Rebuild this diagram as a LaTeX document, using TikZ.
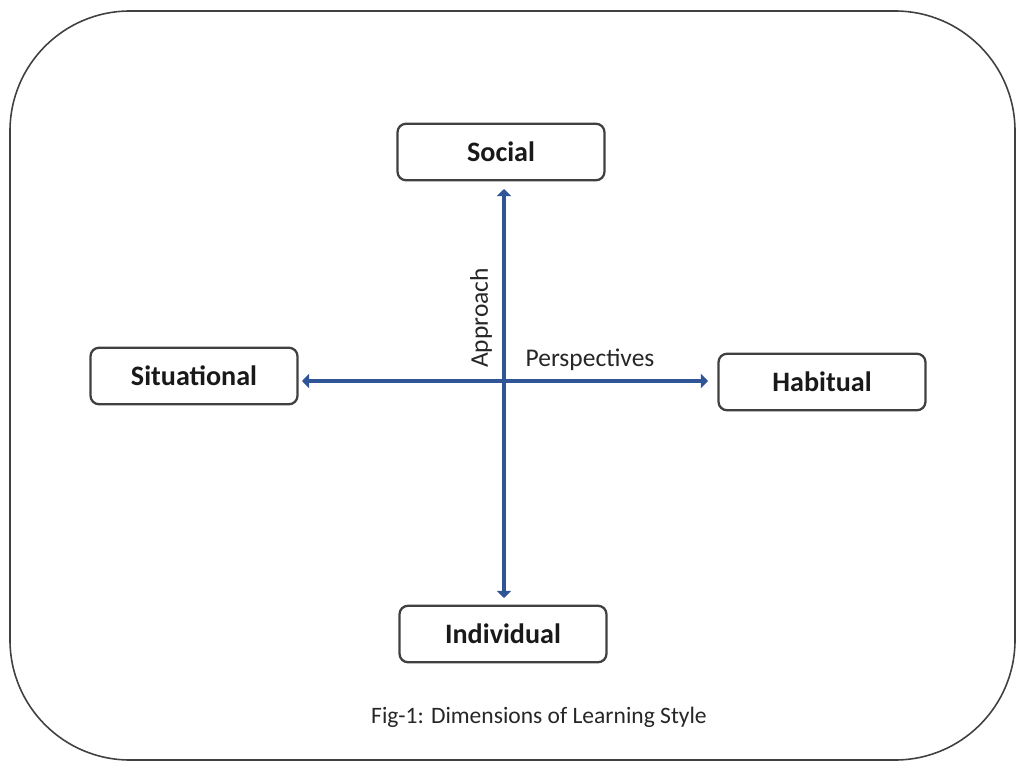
\documentclass[tikz,border=0pt]{standalone}
\usepackage{fontspec}
\setmainfont{Carlito}
\usepackage{xcolor}
\usepackage{tikz}
\usetikzlibrary{calc,arrows.meta}
\definecolor{axisblue}{RGB}{47,85,151}
\definecolor{boxgray}{RGB}{64,64,64}
\tikzset{
	dimbox/.style={draw=boxgray,line width=1.3pt,rounded corners=0.17cm,minimum width=4.14cm,minimum height=1.13cm,font=\fontsize{16}{19}\selectfont\bfseries,text=black!90},
	axis/.style={draw=axisblue,line width=2.4pt,{Triangle[length=4pt,width=8pt]}-{Triangle[length=4pt,width=8pt]}},
	axislabel/.style={font=\fontsize{14.5}{17}\selectfont,text=black!85}
}
\begin{document}
\begin{tikzpicture}[x=0.02cm,y=-0.02cm]
	        \useasboundingbox (0,0) rectangle (1025,767);
	        \draw[boxgray,line width=0.9pt,rounded corners=2.4cm] (10,11) rectangle (1015,760); %outer frame
	        \node[dimbox] (social) at (501,152) {Social};
	        \node[dimbox] (situational) at (194,376) {Situational};
	        \node[dimbox] (habitual) at (822,382) {Habitual};
	        \node[dimbox] (individual) at (503,634) {Individual};
	        \coordinate (Vtop) at (504,189);
	        \coordinate (Vbot) at (504,598);
	        \coordinate (Hleft) at (302,381);
	        \coordinate (Hright) at (708,381);
	        \draw[axis] (Vtop) -- (Vbot); % approach axis
	        \draw[axis] (Hleft) -- (Hright); % perspectives axis
	        \node[axislabel,rotate=90] (approach) at (481,318) {Approach};
	        \node[axislabel] (perspectives) at (590,360) {Perspectives};
	        \node[axislabel,font=\fontsize{13.4}{16}\selectfont] (caption) at (539,717) {Fig-1: Dimensions of Learning Style};
	    \end{tikzpicture}
\end{document}
